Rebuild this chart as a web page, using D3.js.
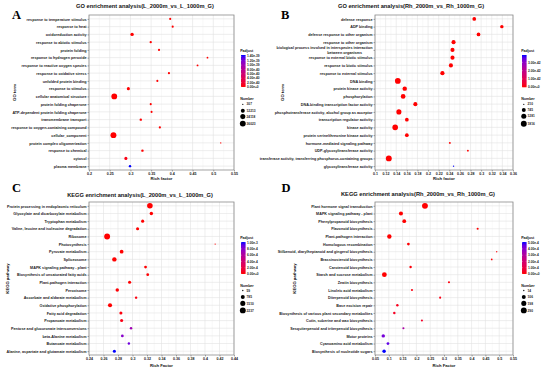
<!DOCTYPE html>
<html><head><meta charset="utf-8">
<script src="https://cdn.jsdelivr.net/npm/d3@7"></script>
<style>
body{margin:0;background:#fff}
svg{display:block}
text{font-family:"Liberation Sans",Arial,sans-serif;font-weight:bold}
</style>
</head><body>
<svg id="c" width="550" height="373"></svg>
<script>
// ---------------- Panel A : GO (L) ----------------
const termsA = ["response to temperature stimulus","response to heat","oxidoreduction activity","response to abiotic stimulus","protein folding","response to hydrogen peroxide","response to reactive oxygen species","response to oxidative stress","unfolded protein binding","response to stimulus","cellular anatomical structure","protein folding chaperone","ATP-dependent protein folding chaperone","transmembrane transport","response to oxygen-containing compound","cellular_component","protein complex oligomerization","response to chemical","cytosol","plasma membrane"];
const richA = [0.396,0.402,0.304,0.349,0.369,0.486,0.462,0.393,0.365,0.295,0.261,0.349,0.351,0.325,0.371,0.259,0.518,0.329,0.289,0.299];
const numberA = [1380,1420,8040,1900,1400,660,900,1500,1350,5760,34000,1300,1200,2450,1700,36023,307,2450,5760,2450];
const padjA = [2.1e-56,3.4e-52,0,1.2e-48,5.6e-50,8.7e-45,3.1e-46,2.2e-47,4.5e-49,1.8e-60,0,2.4e-50,1.1e-49,6.3e-42,3.9e-47,0,7.4e-43,2.6e-44,5.3e-41,1.46e-39];
const xTicksA = [0.2,0.25,0.3,0.35,0.4,0.45,0.5,0.55];
const padjBreaksA = [1.4e-39,1.2e-39,1.0e-39,8.0e-40,6.0e-40,4.0e-40,2.0e-40,0];
const padjLabelsA = ["1.40e-39","1.20e-39","1.00e-39","8.00e-40","6.00e-40","4.00e-40","2.00e-40","0.00e+0"];
const numberBreaksA = [307,12213,24118,36023];

// ---------------- Panel B : GO (Rh) ----------------
const termsB = ["defense response","ADP binding","defense response to other organism","response to other organism","biological process involved in interspecies interaction\nbetween organisms","response to external biotic stimulus","response to biotic stimulus","response to external stimulus","DNA binding","protein kinase activity","phosphorylation","DNA-binding transcription factor activity","phosphotransferase activity, alcohol group as acceptor","transcription regulator activity","kinase activity","protein serine/threonine kinase activity","hormone-mediated signaling pathway","UDP-glycosyltransferase activity","transferase activity, transferring phosphorus-containing groups","glycosyltransferase activity"];
const richB = [0.287,0.339,0.295,0.248,0.246,0.246,0.243,0.227,0.143,0.156,0.153,0.176,0.145,0.160,0.138,0.160,0.241,0.275,0.126,0.248];
const numberB = [645,560,645,800,800,800,820,860,1680,980,1090,800,1300,645,1600,645,240,235,1816,210];
const padjB = [1.2e-60,3.5e-55,2.1e-58,4.4e-57,5.1e-57,6.0e-57,7.3e-57,1.1e-55,2.2e-64,3.1e-52,4.0e-52,1.5e-50,6.2e-60,2.7e-49,8.8e-61,3.3e-48,2.0e-45,5.5e-46,1.0e-70,3.89e-42];
const xTicksB = [0.1,0.12,0.14,0.16,0.18,0.2,0.22,0.24,0.26,0.28,0.3,0.32,0.34,0.36];
const padjBreaksB = [3e-42,2e-42,1e-42,0];
const padjLabelsB = ["3.00e-42","2.00e-42","1.00e-42","0.00e+0"];
const numberBreaksB = [210,745,1281,1816];

// ---------------- Panel C : KEGG (L) ----------------
const termsC = ["Protein processing in endoplasmic reticulum","Glyoxylate and dicarboxylate metabolism","Tryptophan metabolism","Valine, leucine and isoleucine degradation","Ribosome","Photosynthesis","Pyruvate metabolism","Spliceosome","MAPK signaling pathway - plant","Biosynthesis of unsaturated fatty acids","Plant-pathogen interaction","Peroxisome","Ascorbate and aldarate metabolism","Oxidative phosphorylation","Fatty acid degradation","Propanoate metabolism","Pentose and glucuronate interconversions","beta-Alanine metabolism","Butanoate metabolism","Alanine, aspartate and glutamate metabolism"];
const richC = [0.324,0.326,0.314,0.307,0.265,0.414,0.285,0.275,0.318,0.321,0.296,0.279,0.305,0.269,0.284,0.285,0.298,0.286,0.295,0.275];
const numberC = [1950,530,390,390,2237,59,680,1060,280,280,390,530,190,860,390,390,190,280,190,390];
const padjC = [1e-12,2e-8,5e-8,3e-9,1e-20,2e-6,4e-7,1e-10,3e-6,5e-6,2e-6,8e-6,3e-5,1e-9,2e-5,4e-5,7.0e-4,8.0e-4,8.8e-4,1.02e-3];
const xTicksC = [0.24,0.26,0.28,0.3,0.32,0.34,0.36,0.38,0.4,0.42,0.44];
const padjBreaksC = [1e-3,8e-4,6e-4,4e-4,2e-4,0];
const padjLabelsC = ["1.00e-3","8.00e-4","6.00e-4","4.00e-4","2.00e-4","0.00e+0"];
const numberBreaksC = [59,785,1510,2237];

// ---------------- Panel D : KEGG (Rh) ----------------
const termsD = ["Plant hormone signal transduction","MAPK signaling pathway - plant","Phenylpropanoid biosynthesis","Flavonoid biosynthesis","Plant-pathogen interaction","Homologous recombination","Stilbenoid, diarylheptanoid and gingerol biosynthesis","Brassinosteroid biosynthesis","Carotenoid biosynthesis","Starch and sucrose metabolism","Zeatin biosynthesis","Linoleic acid metabolism","Diterpenoid biosynthesis","Base excision repair","Biosynthesis of various plant secondary metabolites","Cutin, suberine and wax biosynthesis","Sesquiterpenoid and triterpenoid biosynthesis","Motor proteins","Cyanoamino acid metabolism","Biosynthesis of nucleotide sugars"];
const richD = [0.231,0.144,0.156,0.422,0.102,0.171,0.491,0.473,0.179,0.084,0.318,0.184,0.286,0.131,0.120,0.220,0.153,0.080,0.097,0.083];
const numberD = [290,116,93,22,141,42,14,16,31,171,22,22,22,31,31,22,22,74,42,74];
const padjD = [1e-12,1e-8,3e-8,2e-6,4e-7,3e-6,5e-6,5e-6,8e-6,1e-7,1e-5,1.5e-5,2e-5,3e-5,4e-5,5e-5,3.2e-4,4.3e-4,4.6e-4,5.1e-4];
const xTicksD = [0.05,0.1,0.15,0.2,0.25,0.3,0.35,0.4,0.45,0.5,0.55];
const padjBreaksD = [5e-4,4e-4,3e-4,2e-4,1e-4,0];
const padjLabelsD = ["5.00e-4","4.00e-4","3.00e-4","2.00e-4","1.00e-4","0.00e+0"];
const numberBreaksD = [14,106,198,290];

// ---------------- layout ----------------
const panels = [
  {terms:termsA, rich:richA, number:numberA, padj:padjA, xTicks:xTicksA, padjBreaks:padjBreaksA, padjLabels:padjLabelsA, numberBreaks:numberBreaksA,
   title:"GO enrichment analysis(L_2000m_vs_L_1000m_G)", letter:"A", yTitle:"GO term", xTitle:"Rich factor",
   box:{x0:89,x1:234,y0:15,y1:170}, titleX:145, titleY:8, letterX:12, letterY:19, yTitleX:15, xTitleY:179.5,
   leg:{x:241, padT:51.5, barTop:55, barBot:87, numT:99.5, cy:[104.3,110.8,116.6,123.6]}},
  {terms:termsB, rich:richB, number:numberB, padj:padjB, xTicks:xTicksB, padjBreaks:padjBreaksB, padjLabels:padjLabelsB, numberBreaks:numberBreaksB,
   title:"GO enrichment analysis(Rh_2000m_vs_Rh_1000m_G)", letter:"B", yTitle:"GO term", xTitle:"Rich factor",
   box:{x0:375,x1:513,y0:15,y1:170}, titleX:411, titleY:8, letterX:281, letterY:19, yTitleX:283, xTitleY:179.5,
   leg:{x:522, padT:51.5, barTop:55, barBot:87.3, numT:99.5, cy:[104.3,109.9,116.2,123.8]}},
  {terms:termsC, rich:richC, number:numberC, padj:padjC, xTicks:xTicksC, padjBreaks:padjBreaksC, padjLabels:padjLabelsC, numberBreaks:numberBreaksC,
   title:"KEGG enrichment analysis(L_2000m_vs_L_1000m_G)", letter:"C", yTitle:"KEGG pathway", xTitle:"Rich Factor",
   box:{x0:89,x1:234,y0:202,y1:355}, titleX:140, titleY:197, letterX:12, letterY:192, yTitleX:8, xTitleY:366.5,
   leg:{x:241, padT:238.5, barTop:242, barBot:274, numT:286.5, cy:[290.5,297,303.4,310.4]}},
  {terms:termsD, rich:richD, number:numberD, padj:padjD, xTicks:xTicksD, padjBreaks:padjBreaksD, padjLabels:padjLabelsD, numberBreaks:numberBreaksD,
   title:"KEGG enrichment analysis(Rh_2000m_vs_Rh_1000m_G)", letter:"D", yTitle:"KEGG pathway", xTitle:"Rich Factor",
   box:{x0:375,x1:513,y0:202,y1:355}, titleX:418, titleY:196, letterX:281.5, letterY:191.5, yTitleX:295, xTitleY:366.5,
   leg:{x:522, padT:238.5, barTop:242, barBot:274, numT:286.5, cy:[290.5,297,303.4,310.4]}}
];

const svg = d3.select("#c");
svg.append("rect").attr("width",550).attr("height",373).attr("fill","#fff");
const defs = svg.append("defs");
const R_MIN = 0.65, R_MAX = 2.95;

panels.forEach((p, pi) => {
  const b = p.box;
  const g = svg.append("g");
  const x = d3.scaleLinear().domain([p.xTicks[0], p.xTicks[p.xTicks.length-1]]).range([b.x0, b.x1]);
  const y = d3.scalePoint().domain(p.terms).range([b.y0, b.y1]).padding(0.5);
  const pmax = d3.max(p.padj);
  const color = d3.scaleLinear().domain([0, pmax]).range(["#ff0000","#0000ff"]).interpolate(d3.interpolateLab);
  const norm = d3.scaleLinear().domain(d3.extent(p.number)).range([0,1]);
  const rs = d3.scaleSqrt().domain([0,1]).range([R_MIN, R_MAX]);
  const r = v => rs(norm(v));

  // grid
  const grid = g.append("g");
  for (let i = 0; i < p.xTicks.length - 1; i++) {
    const m = x((p.xTicks[i] + p.xTicks[i+1]) / 2);
    grid.append("line").attr("x1",m).attr("x2",m).attr("y1",b.y0).attr("y2",b.y1).attr("stroke","#f0f0f0").attr("stroke-width",0.4);
  }
  p.xTicks.forEach(t => grid.append("line").attr("x1",x(t)).attr("x2",x(t)).attr("y1",b.y0).attr("y2",b.y1).attr("stroke","#e2e2e2").attr("stroke-width",0.6));
  p.terms.forEach(t => grid.append("line").attr("x1",b.x0).attr("x2",b.x1).attr("y1",y(t)).attr("y2",y(t)).attr("stroke","#e2e2e2").attr("stroke-width",0.6));

  // points
  g.append("g").selectAll("circle").data(p.terms.map((t,i)=>({t, rf:p.rich[i], n:p.number[i], pa:p.padj[i]})))
    .join("circle").attr("cx",d=>x(d.rf)).attr("cy",d=>y(d.t)).attr("r",d=>r(d.n)).attr("fill",d=>color(d.pa));

  // border
  g.append("rect").attr("x",b.x0).attr("y",b.y0).attr("width",b.x1-b.x0).attr("height",b.y1-b.y0)
    .attr("fill","none").attr("stroke","#8c8c8c").attr("stroke-width",0.8);

  // axes
  const ax = g.append("g").attr("transform",`translate(0,${b.y1})`)
    .call(d3.axisBottom(x).tickValues(p.xTicks).tickFormat(d3.format("~g")).tickSize(1.5).tickPadding(0.8));
  const ay = g.append("g").attr("transform",`translate(${b.x0},0)`)
    .call(d3.axisLeft(y).tickSize(1.5).tickPadding(1));
  [ax, ay].forEach(a => {
    a.select(".domain").remove();
    a.selectAll(".tick line").attr("stroke","#555").attr("stroke-width",0.5);
    a.selectAll(".tick text").attr("fill","#1a1a1a").style("font-family","'Liberation Sans',Arial,sans-serif").style("font-weight","bold");
  });
  ax.selectAll(".tick text").style("font-size","3.6px").attr("dy","0.71em");
  ay.selectAll(".tick text").style("font-size","3.72px");
  ay.selectAll(".tick text").each(function(d){
    if (d.indexOf("\n") >= 0) {
      const parts = d.split("\n");
      const t = d3.select(this).text(null).attr("dy",null);
      t.append("tspan").attr("x",-2.5).attr("dy","-0.25em").text(parts[0]);
      t.append("tspan").attr("x",-13).attr("dy","1.15em").text(parts[1]);
    }
  });

  // titles
  g.append("text").attr("x",p.titleX).attr("y",p.titleY).attr("text-anchor","middle").style("font-size","5.7px").attr("fill","#111").text(p.title);
  g.append("text").attr("x",p.letterX).attr("y",p.letterY).style("font-family","'Liberation Serif','Times New Roman',serif").style("font-size","12.5px").attr("fill","#000").text(p.letter);
  g.append("text").attr("x",(b.x0+b.x1)/2).attr("y",p.xTitleY).attr("text-anchor","middle").style("font-size","4.2px").attr("fill","#111").text(p.xTitle);
  g.append("text").attr("transform",`translate(${p.yTitleX},${(b.y0+b.y1)/2}) rotate(-90)`).attr("text-anchor","middle").attr("dy","0.35em").style("font-size","4.2px").attr("fill","#111").text(p.yTitle);

  // legend: Padjust colorbar
  const L = p.leg, bw = 4.6;
  const gid = "grad"+pi;
  const grad = defs.append("linearGradient").attr("id",gid).attr("x1",0).attr("y1",1).attr("x2",0).attr("y2",0);
  d3.range(0,1.0001,0.1).forEach(s => grad.append("stop").attr("offset",s).attr("stop-color",color(s*pmax)));
  g.append("text").attr("x",L.x-0.8).attr("y",L.padT).style("font-size","3.6px").attr("fill","#111").text("Padjust");
  g.append("rect").attr("x",L.x).attr("y",L.barTop).attr("width",bw).attr("height",L.barBot-L.barTop).attr("fill",`url(#${gid})`);
  const cy = d3.scaleLinear().domain([0,pmax]).range([L.barBot, L.barTop]);
  p.padjBreaks.forEach((v,i) => {
    const yy = cy(v);
    g.append("line").attr("x1",L.x).attr("x2",L.x+0.9).attr("y1",yy).attr("y2",yy).attr("stroke","#fff").attr("stroke-width",0.3);
    g.append("line").attr("x1",L.x+bw-0.9).attr("x2",L.x+bw).attr("y1",yy).attr("y2",yy).attr("stroke","#fff").attr("stroke-width",0.3);
    g.append("text").attr("x",L.x+bw+1.4).attr("y",yy).attr("dy","0.35em").style("font-size","3.2px").attr("fill","#222").text(p.padjLabels[i]);
  });
  // legend: Number
  g.append("text").attr("x",L.x-0.8).attr("y",L.numT).style("font-size","3.6px").attr("fill","#111").text("Number");
  p.numberBreaks.forEach((v,i) => {
    g.append("circle").attr("cx",L.x+1.8).attr("cy",L.cy[i]).attr("r",r(v)).attr("fill","#000");
    g.append("text").attr("x",L.x+5.6).attr("y",L.cy[i]).attr("dy","0.35em").style("font-size","3.2px").attr("fill","#222").text(v);
  });
});
</script>
</body></html>
